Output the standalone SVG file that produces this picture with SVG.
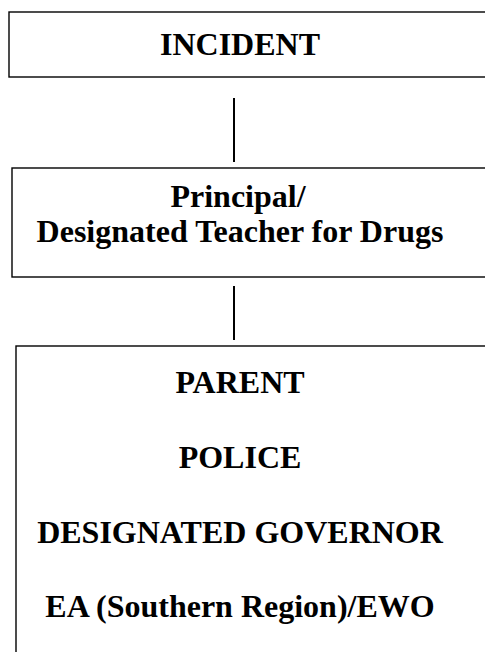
<svg xmlns="http://www.w3.org/2000/svg" width="485" height="652" viewBox="0 0 485 652">
<style>
.box{fill:#fff;stroke:#000;stroke-width:1.4}
.t{font-family:"Liberation Serif","Times New Roman",serif;font-weight:bold;font-size:32px;text-anchor:middle;fill:#000}
.c{stroke:#000;stroke-width:2;fill:none}
</style>
<rect width="485" height="652" fill="#fff"/>
<g id="connectors">
<line class="c" x1="234" y1="98" x2="234" y2="162"/>
<line class="c" x1="234" y1="286" x2="234" y2="340"/>
</g>
<g id="incident">
<rect class="box" x="9" y="12" width="490" height="65"/>
<text class="t" x="240" y="55">INCIDENT</text>
</g>
<g id="principal">
<rect class="box" x="12" y="168" width="490" height="109"/>
<text class="t" x="238" y="207">Principal/</text>
<text class="t" x="240" y="242">Designated Teacher for Drugs</text>
</g>
<g id="contacts">
<rect class="box" x="16" y="346" width="490" height="320"/>
<text class="t" x="240" y="393">PARENT</text>
<text class="t" x="240" y="468">POLICE</text>
<text class="t" x="240" y="543">DESIGNATED GOVERNOR</text>
<text class="t" x="240" y="617">EA (Southern Region)/EWO</text>
</g>
</svg>
